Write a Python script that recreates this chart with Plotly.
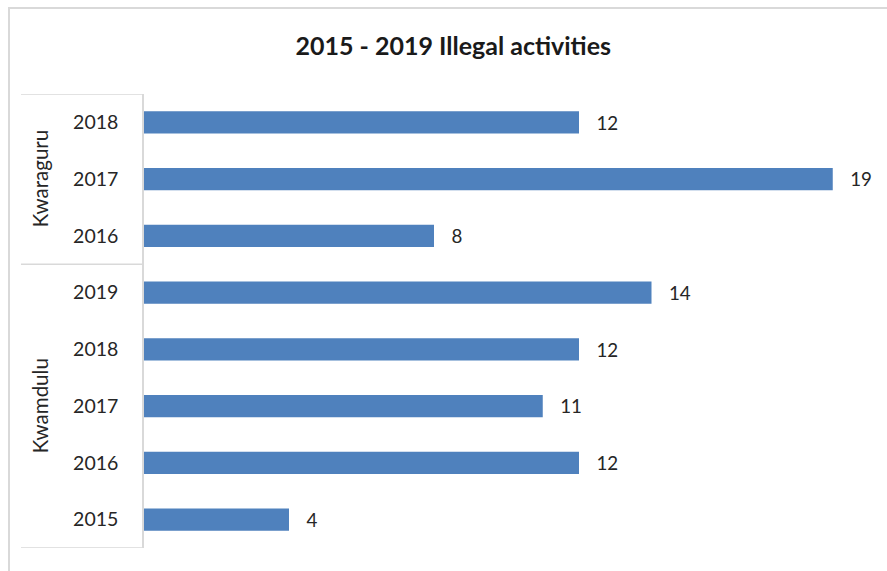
import plotly.graph_objects as go

# Data (bottom to top, as Excel orders categories)
groups = ["Kwamdulu", "Kwamdulu", "Kwamdulu", "Kwamdulu", "Kwamdulu",
          "Kwaraguru", "Kwaraguru", "Kwaraguru"]
years = ["2015", "2016", "2017", "2018", "2019", "2016", "2017", "2018"]
values = [4, 12, 11, 12, 14, 8, 19, 12]
title = "2015 - 2019 Illegal activities"

pos = list(range(len(values)))
FONT = "Lato"
GRID = "#d9d9d9"

fig = go.Figure(go.Bar(
    x=values, y=pos, orientation="h",
    marker=dict(color="#4F81BD", line=dict(width=0)),
    width=0.39,
    text=values, texttemplate="   %{x}", textposition="outside",
    textfont=dict(family=FONT, size=19.5, color="#262626"),
    cliponaxis=False,
))

shapes = []
# outer chart border (only top/left visible in window)
shapes.append(dict(type="rect", xref="paper", yref="paper",
                   x0=-0.1862, x1=1.04, y0=-0.07, y1=1.1894,
                   line=dict(color=GRID, width=2), layer="below"))
# group divider lines
unique = []
for g in groups:
    if g not in unique:
        unique.append(g)
bounds = [-0.5]
for g in unique:
    idx = [i for i, gg in enumerate(groups) if gg == g]
    bounds.append(max(idx) + 0.5)
for b in bounds:
    shapes.append(dict(type="line", xref="paper", yref="y",
                       x0=-0.1697, x1=0, y0=b, y1=b,
                       line=dict(color=GRID, width=1.5)))

annotations = []
for g in unique:
    idx = [i for i, gg in enumerate(groups) if gg == g]
    annotations.append(dict(text=g, xref="paper", yref="y",
                            x=-0.1434, y=(min(idx) + max(idx)) / 2,
                            textangle=-90, showarrow=False,
                            xanchor="center", yanchor="middle",
                            font=dict(family=FONT, size=20.5, color="#262626")))

fig.update_layout(
    width=887, height=571,
    margin=dict(l=144, r=18, t=94, b=23),
    paper_bgcolor="white", plot_bgcolor="white",
    title=dict(text="<b>" + title + "</b>", x=0.511, xref="container",
               y=1 - 46 / 571, yref="container", xanchor="center", yanchor="middle",
               font=dict(family=FONT, size=25, color="#1a1a1a")),
    xaxis=dict(range=[0, 20], showgrid=False, showticklabels=False,
               zeroline=False, showline=False, fixedrange=True),
    yaxis=dict(range=[-0.5, len(values) - 0.5], tickvals=pos, ticktext=years,
               showgrid=False, zeroline=False, showline=True,
               linecolor=GRID, linewidth=1.5, ticks="",
               ticklabelstandoff=20,
               tickfont=dict(family=FONT, size=19.5, color="#262626")),
    shapes=shapes, annotations=annotations,
    showlegend=False,
)

fig.write_html("out.html")
